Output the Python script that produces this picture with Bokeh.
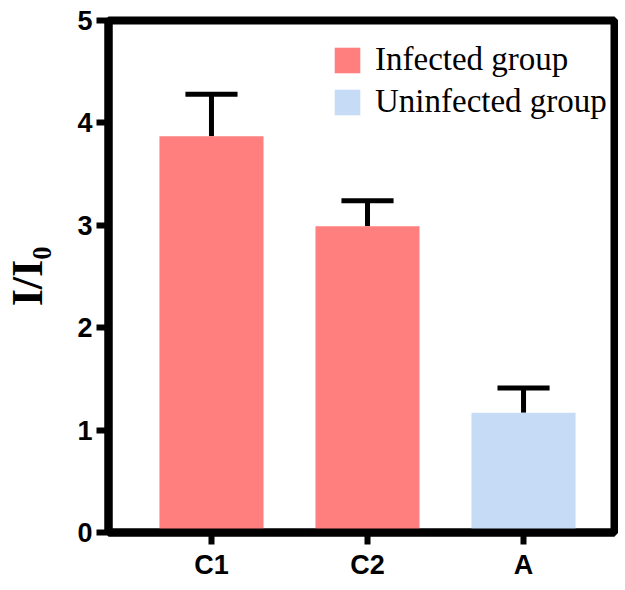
from bokeh.plotting import figure
from bokeh.models import ColumnDataSource, Range1d, FixedTicker, Legend, LegendItem
from bokeh.embed import file_html
from bokeh.resources import INLINE

categories = ["C1", "C2", "A"]
values = [3.87, 2.99, 1.17]
errors = [0.41, 0.25, 0.24]
groups = ["Infected group", "Infected group", "Uninfected group"]
group_colors = {"Infected group": "#FF7F7F", "Uninfected group": "#C6DCF6"}
y_ticks = [0, 1, 2, 3, 4, 5]

xs = [i + 0.5 for i in range(len(categories))]
tops = [v + e for v, e in zip(values, errors)]
cap_half = 0.167

src = ColumnDataSource(dict(
    x=xs, top=values, err_top=tops,
    cap_l=[x - cap_half for x in xs], cap_r=[x + cap_half for x in xs],
))

p = figure(frame_width=506, frame_height=512, output_backend="svg", toolbar_location=None,
           x_range=Range1d(-0.16, 3.083), y_range=Range1d(0, 5),
           min_border_left=97, min_border_top=20, min_border_bottom=0, min_border_right=4)
p.grid.visible = False
p.background_fill_color = "white"
p.border_fill_color = "white"
p.outline_line_color = "black"
p.outline_line_width = 8

# error bars (upper only)
p.segment(x0="x", y0="top", x1="x", y1="err_top", source=src, line_color="black", line_width=5)
p.segment(x0="cap_l", y0="err_top", x1="cap_r", y1="err_top", source=src, line_color="black", line_width=5)

inf_idx = [i for i, g in enumerate(groups) if g == "Infected group"]
un_idx = [i for i, g in enumerate(groups) if g == "Uninfected group"]
src_inf = ColumnDataSource(dict(x=[xs[i] for i in inf_idx], top=[values[i] for i in inf_idx]))
src_un = ColumnDataSource(dict(x=[xs[i] for i in un_idx], top=[values[i] for i in un_idx]))
r_inf = p.vbar(x="x", top="top", width=0.667, source=src_inf, fill_color=group_colors["Infected group"], line_color=None)
r_un = p.vbar(x="x", top="top", width=0.667, source=src_un, fill_color=group_colors["Uninfected group"], line_color=None)

legend = Legend(items=[LegendItem(label="Infected group", renderers=[r_inf]),
                       LegendItem(label="Uninfected group", renderers=[r_un])])
legend.label_text_font = "Liberation Serif"
legend.label_text_font_size = "33px"
legend.label_text_color = "black"
legend.glyph_width = 32
legend.glyph_height = 32
legend.label_height = 32
legend.spacing = 5
legend.padding = 0
legend.margin = 0
legend.label_standoff = 12
legend.border_line_color = None
legend.background_fill_alpha = 0
legend.location = (223, 412)
p.add_layout(legend)

for ax in (p.xaxis[0], p.yaxis[0]):
    ax.axis_line_width = 8
    ax.axis_line_color = "black"
    ax.major_tick_line_width = 6
    ax.major_tick_line_color = "black"
    ax.major_tick_out = 12
    ax.major_tick_in = 0
    ax.minor_tick_line_color = None
    ax.major_label_text_font = "Liberation Sans"
    ax.major_label_text_font_style = "bold"
    ax.major_label_text_font_size = "27px"
    ax.major_label_text_color = "black"

p.yaxis.ticker = FixedTicker(ticks=y_ticks)
p.yaxis.major_label_standoff = 4
p.yaxis.axis_label = "I/I\u2080"
p.yaxis.axis_label_text_font = "Liberation Serif"
p.yaxis.axis_label_text_font_style = "bold"
p.yaxis.axis_label_text_font_size = "44px"
p.yaxis.axis_label_text_color = "black"
p.yaxis.axis_label_standoff = 22

p.xaxis.ticker = FixedTicker(ticks=xs)
p.xaxis.major_label_overrides = {x: c for x, c in zip(xs, categories)}
p.xaxis.major_label_standoff = 5
p.xaxis.axis_label = None
p.xaxis.axis_label_standoff = 0

open("out.html", "w").write(file_html(p, INLINE))
